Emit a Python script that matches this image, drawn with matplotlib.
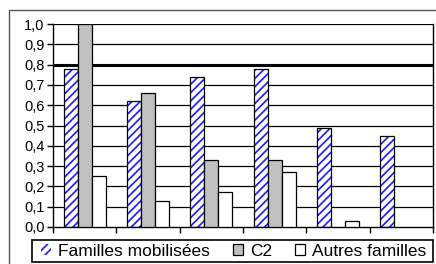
import matplotlib
matplotlib.use("Agg")
import matplotlib.pyplot as plt
from matplotlib.patches import Patch, Rectangle
import numpy as np

plt.rcParams["font.family"] = ["Liberation Sans", "DejaVu Sans"]
plt.rcParams["hatch.linewidth"] = 1.2

series = ["Familles mobilisées", "C2", "Autres familles"]
familles = [0.78, 0.62, 0.74, 0.78, 0.49, 0.45]
c2 = [1.0, 0.66, 0.33, 0.33, 0.0, 0.0]
autres = [0.25, 0.13, 0.17, 0.27, 0.03, 0.0]
yticks = [0.0, 0.1, 0.2, 0.3, 0.4, 0.5, 0.6, 0.7, 0.8, 0.9, 1.0]

fig = plt.figure(figsize=(4.36, 2.64), dpi=100)
ax = fig.add_axes([53 / 436, 1 - 227 / 264, 380 / 436, 203 / 264])

# outer chart frame
fig.add_artist(Rectangle((9 / 436, -0.1), 1.0, 1 - 10 / 264 + 0.1,
                         transform=fig.transFigure, fill=False,
                         edgecolor="#555555", linewidth=1.0))

n = len(familles)
x = np.arange(n)
w = 1 / 4.5

for yv in yticks[1:]:
    ax.axhline(yv, color="black", linewidth=2.2 if abs(yv - 0.8) < 1e-9 else 0.9,
               zorder=1)

vals_f = np.array(familles)
ax.bar(x - w, vals_f, w, color="white", edgecolor="#1a1aff", hatch="////",
       linewidth=0, zorder=2)
ax.bar(x - w, vals_f, w, fill=False, edgecolor="black", linewidth=0.9, zorder=3)
c2v = np.array(c2)
m = c2v > 0
ax.bar(x[m], c2v[m], w, color="#c0c0c0", edgecolor="black", linewidth=0.9, zorder=3)
av = np.array(autres)
m = av > 0
ax.bar(x[m] + w, av[m], w, color="white", edgecolor="black", linewidth=0.9, zorder=3)

ax.set_xlim(-0.5, n - 0.5)
ax.set_ylim(0, 1.0)
ax.set_yticks(yticks)
ax.set_yticklabels([f"{v:.1f}".replace(".", ",") for v in yticks], fontsize=10.5)
ax.set_xticks(np.arange(n + 1) - 0.5)
ax.set_xticklabels([])
ax.tick_params(axis="both", direction="out", length=4, width=1, color="black",
               pad=2)
for s in ax.spines.values():
    s.set_color("black")
    s.set_linewidth(1)
ax.spines["top"].set_visible(False)

# legend box
fig.add_artist(Rectangle((32 / 436, 2 / 264), 401 / 436, 22 / 264,
                         transform=fig.transFigure, fill=False,
                         edgecolor="black", linewidth=1.2))
handles = [
    Patch(facecolor="white", edgecolor="#1a1aff", hatch="////", linewidth=0),
    Patch(facecolor="#c0c0c0", edgecolor="black", linewidth=0.9),
    Patch(facecolor="white", edgecolor="black", linewidth=0.9),
]
leg = fig.legend(handles, series, loc="center left",
                 bbox_to_anchor=(41 / 436, 13 / 264),
                 ncol=3, fontsize=12.5, frameon=False,
                 handlelength=0.6, handleheight=0.6, handletextpad=0.4,
                 columnspacing=1.3, borderpad=0, borderaxespad=0)

fig.savefig("out.png", dpi=100)
